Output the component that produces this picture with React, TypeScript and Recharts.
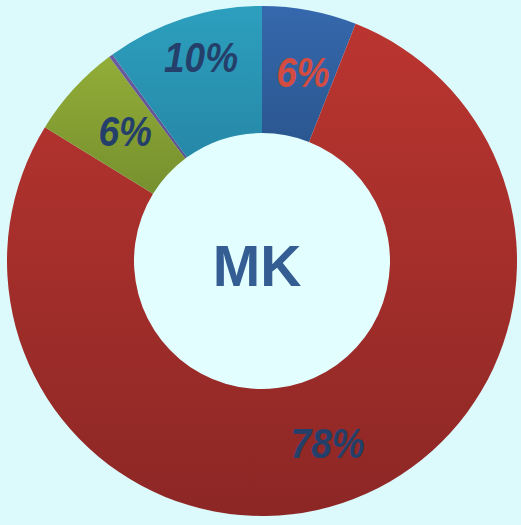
import { PieChart, Pie, Cell } from 'recharts';

const categories = ['Biru', 'Merah', 'Hijau', 'Ungu', 'Cyan'];
const values = [6, 78, 6, 0.25, 10];
const labels = ['6%', '78%', '6%', '', '10%'];
const labelColors = ['#d24c42', '#24406a', '#24406a', '#24406a', '#24406a'];

const gradients = [
  { id: 'gBlue', top: '#3568ad', bottom: '#2b5790' },
  { id: 'gRed', top: '#ba3530', bottom: '#8c2725' },
  { id: 'gGreen', top: '#93ad38', bottom: '#76902e' },
  { id: 'gPurple', top: '#6d5c9f', bottom: '#5d4e8a' },
  { id: 'gCyan', top: '#2d9fbe', bottom: '#2688a8' }
];

const data = categories.map((name, i) => ({ name, value: values[i] }));

const RADIAN = Math.PI / 180;

const renderLabel = (props: any) => {
  const { cx, cy, midAngle, index } = props;
  if (!labels[index]) return null;
  // the 10% label sits a little further out in the original
  const r = index === 4 ? 214 : 192;
  const x = cx + r * Math.cos(-midAngle * RADIAN) + 5;
  const y = cy + r * Math.sin(-midAngle * RADIAN);
  return (
    <text
      transform={`translate(${x},${y}) scale(1,1.13)`}
      x={0}
      y={0}
      fill={labelColors[index]}
      textAnchor="middle"
      dominantBaseline="central"
      fontFamily="'Liberation Sans', Arial, sans-serif"
      fontWeight={700}
      fontStyle="italic"
      fontSize={37}
    >
      {labels[index]}
    </text>
  );
};

export default function App() {
  return (
    <div style={{ position: 'fixed', top: 0, left: 0, width: 521, height: 525, background: '#dcf9fc' }}>
      {/* lighter hole behind the ring */}
      <div
        style={{
          position: 'absolute',
          left: 134,
          top: 133,
          width: 256,
          height: 256,
          borderRadius: '50%',
          background: 'radial-gradient(circle, #e3fefe 0%, #e3fefe 93%, #f3ffff 100%)'
        }}
      />
      <div style={{ position: 'absolute', left: 0, top: 0 }}>
        <PieChart width={521} height={525} margin={{ top: 0, right: 0, bottom: 0, left: 0 }}>
          <defs>
            {gradients.map((g) => (
              <linearGradient key={g.id} id={g.id} x1="0" y1="0" x2="0" y2="1">
                <stop offset="0%" stopColor={g.top} />
                <stop offset="100%" stopColor={g.bottom} />
              </linearGradient>
            ))}
          </defs>
          <Pie
            data={data}
            dataKey="value"
            cx={262}
            cy={261}
            innerRadius={128}
            outerRadius={255}
            startAngle={90}
            endAngle={-270}
            stroke="none"
            label={renderLabel}
            labelLine={false}
            isAnimationActive={false}
          >
            {data.map((entry, index) => (
              <Cell key={`cell-${index}`} fill={`url(#${gradients[index].id})`} />
            ))}
          </Pie>
          <text
            x={257}
            y={266}
            textAnchor="middle"
            dominantBaseline="central"
            fill="#335d93"
            fontFamily="'Liberation Sans', Arial, sans-serif"
            fontWeight={700}
            fontSize={57}
          >
            MK
          </text>
        </PieChart>
      </div>
    </div>
  );
}
